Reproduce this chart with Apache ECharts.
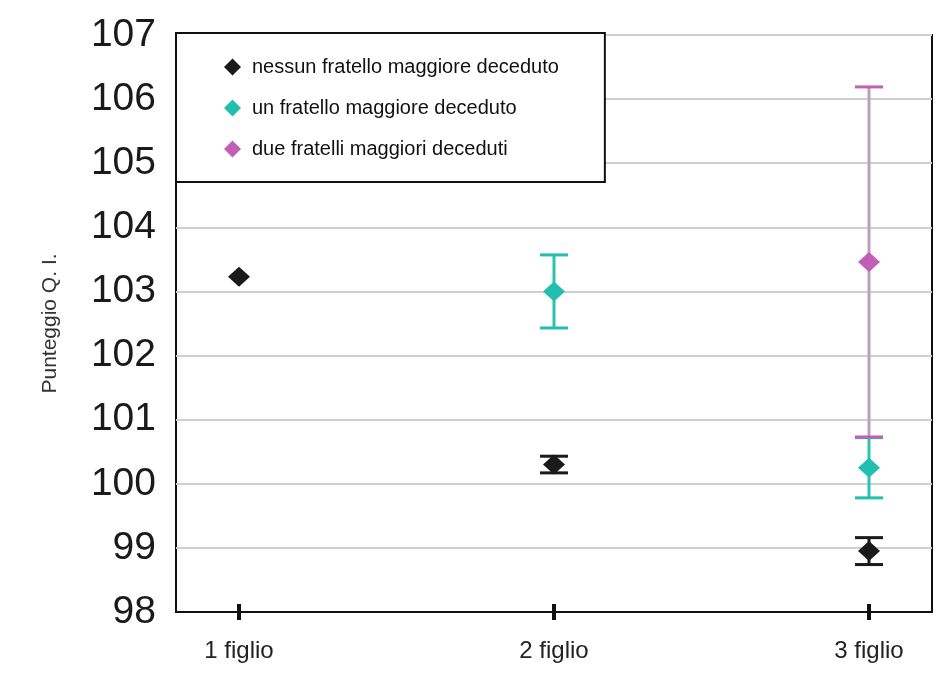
<!DOCTYPE html>
<html>
<head>
<meta charset="utf-8">
<script src="https://cdn.jsdelivr.net/npm/echarts@6/dist/echarts.min.js"></script>
<style>
  html, body { margin: 0; padding: 0; background: #fff; }
  #chart { width: 940px; height: 683px; }
</style>
</head>
<body>
<div id="chart"></div>
<script>
// categorie e posizioni sull'asse x
var categories = ['1 figlio', '2 figlio', '3 figlio'];
var xPos = [1, 2, 3];
var yTicks = [98, 99, 100, 101, 102, 103, 104, 105, 106, 107];

// nessun fratello maggiore deceduto
var nessunMean = [103.23, 100.30, 98.95];
var nessunErr = [null, 0.13, 0.21];
// un fratello maggiore deceduto
var unMean = [null, 103.00, 100.25];
var unErr = [null, 0.57, 0.47];
// due fratelli maggiori deceduti
var dueMean = [null, null, 103.46];
var dueErr = [null, null, 2.73];

var seriesNames = ['nessun fratello maggiore deceduto', 'un fratello maggiore deceduto', 'due fratelli maggiori deceduti'];
var colors = ['#1a1a1a', '#22bfb0', '#c25fb4'];
var barColors = ['#1a1a1a', '#2cc3b3', '#b9a1bb'];

function points(means) {
  var out = [];
  means.forEach(function (m, i) { if (m != null) out.push([xPos[i], m]); });
  return out;
}
function errs(means, es) {
  var out = [];
  means.forEach(function (m, i) { if (m != null && es[i] != null) out.push([xPos[i], m, es[i]]); });
  return out;
}

function errorBar(lineColor, capColor) {
  return function (params, api) {
    var x = api.value(0), m = api.value(1), e = api.value(2);
    var top = api.coord([x, m + e]);
    var bot = api.coord([x, m - e]);
    var w = 14;
    return {
      type: 'group',
      children: [
        { type: 'line', shape: { x1: top[0], y1: top[1], x2: bot[0], y2: bot[1] }, style: { stroke: lineColor, lineWidth: 3 } },
        { type: 'line', shape: { x1: top[0] - w, y1: top[1], x2: top[0] + w, y2: top[1] }, style: { stroke: capColor, lineWidth: 3 } },
        { type: 'line', shape: { x1: bot[0] - w, y1: bot[1], x2: bot[0] + w, y2: bot[1] }, style: { stroke: capColor, lineWidth: 3 } }
      ]
    };
  };
}

var chart = echarts.init(document.getElementById('chart'));
var option = {
  backgroundColor: '#fff',
  animation: false,
  textStyle: { fontFamily: 'Liberation Sans, Arial, sans-serif' },
  grid: {
    left: 176, right: 8, top: 35, bottom: 71,
    show: true, borderColor: '#111', borderWidth: 2, backgroundColor: '#fff'
  },
  legend: {
    orient: 'vertical',
    left: 176, top: 33,
    data: seriesNames,
    icon: 'diamond',
    itemWidth: 17, itemHeight: 17,
    itemGap: 21,
    padding: [24, 46, 23, 48],
    backgroundColor: '#fff',
    borderColor: '#111', borderWidth: 2,
    textStyle: { fontSize: 20, color: '#111', lineHeight: 20, padding: [0, 0, 0, 6] }
  },
  xAxis: [{
    type: 'value', min: 0.8, max: 3.2,
    splitLine: { show: false },
    axisLine: { show: true, onZero: false, lineStyle: { color: '#111', width: 2 } },
    axisTick: { show: true, customValues: xPos, length: 8, lineStyle: { color: '#111', width: 4 } },
    axisLabel: {
      customValues: xPos, margin: 27, fontSize: 24, color: '#222',
      formatter: function (v) { return categories[xPos.indexOf(v)]; }
    }
  }, {
    type: 'value', min: 0.8, max: 3.2, position: 'bottom',
    splitLine: { show: false },
    axisLine: { show: false },
    axisTick: { show: true, inside: true, customValues: xPos, length: 8, lineStyle: { color: '#111', width: 4 } },
    axisLabel: { show: false }
  }],
  yAxis: {
    type: 'value', min: yTicks[0], max: yTicks[yTicks.length - 1], interval: 1,
    name: 'Punteggio Q. I.', nameLocation: 'middle', nameGap: 115,
    nameTextStyle: { fontSize: 21, color: '#333' },
    axisLine: { show: false },
    axisTick: { show: false },
    axisLabel: { fontSize: 39, color: '#1a1a1a', margin: 20 },
    splitLine: { show: true, lineStyle: { color: '#cfcfcf', width: 2 } }
  },
  series: [
    { type: 'custom', name: seriesNames[1] + '_err', renderItem: errorBar(barColors[1], colors[1]), data: errs(unMean, unErr), z: 3, encode: { x: 0, y: [1] } },
    { type: 'custom', name: seriesNames[2] + '_err', renderItem: errorBar(barColors[2], colors[2]), data: errs(dueMean, dueErr), z: 4, encode: { x: 0, y: [1] } },
    { type: 'custom', name: seriesNames[0] + '_err', renderItem: errorBar(barColors[0], colors[0]), data: errs(nessunMean, nessunErr), z: 3, encode: { x: 0, y: [1] } },
    { type: 'scatter', name: seriesNames[0], data: points(nessunMean), symbol: 'diamond', symbolSize: [22, 20], itemStyle: { color: colors[0], opacity: 1 }, z: 5 },
    { type: 'scatter', name: seriesNames[1], data: points(unMean), symbol: 'diamond', symbolSize: [22, 20], itemStyle: { color: colors[1], opacity: 1 }, z: 5 },
    { type: 'scatter', name: seriesNames[2], data: points(dueMean), symbol: 'diamond', symbolSize: [22, 20], itemStyle: { color: colors[2], opacity: 1 }, z: 5 }
  ]
};
chart.setOption(option);
</script>
</body>
</html>
